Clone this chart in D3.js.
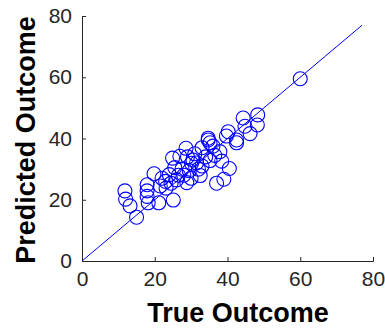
<!DOCTYPE html>
<html lang="en">
<head>
    <meta charset="UTF-8">
    <title>Predicted vs True Outcome</title>
    <script src="https://d3js.org/d3.v7.min.js"></script>
    <style>
        body {
            margin: 0;
            background: white;
            font-family: "Liberation Sans", Arial, sans-serif;
        }
        .tick text {
            font-size: 21px;
            fill: #262626;
        }
        .axis-title {
            font-size: 27px;
            font-weight: bold;
            fill: #000;
        }
    </style>
</head>
<body>
    <div id="chart"></div>
    <script>
        // True / predicted outcome pairs
        const trueOutcome = [
            60, 48.3, 48.2, 44.3, 44.8, 46.2, 40.2, 34.7, 39.7, 42.5,
            42.5, 34.7, 35.2, 37.9, 35.2, 38.4, 40.5, 39.0, 37.0, 28.6,
            30.1, 31.5, 32.5, 28.8, 26.9, 24.9, 24.0, 24.5, 25.1, 23.1,
            21.1, 19.8, 17.9, 17.9, 17.9, 18.2, 11.8, 12.0, 13.2, 15.0,
            26.5, 27.5, 29.5, 30.5, 31.0, 33.0, 36.0, 34.0, 22.0, 26.0,
            28.0, 30.0, 33.0, 36.5, 25.5, 23.0, 29.0, 32.0, 21.5
        ];
        const predictedOutcome = [
            59.5, 47.7, 44.4, 46.7, 44.0, 41.6, 42.2, 40.1, 40.8, 38.6,
            39.5, 39.5, 38.6, 35.7, 32.8, 32.6, 30.2, 26.7, 25.4, 36.8,
            31.9, 32.0, 27.9, 25.6, 34.2, 33.6, 28.2, 25.4, 19.9, 23.8,
            19.0, 28.5, 24.9, 22.9, 21.1, 19.0, 22.9, 20.2, 18.0, 14.3,
            28.0, 30.0, 29.5, 33.0, 35.0, 37.0, 37.5, 34.0, 27.0, 26.5,
            28.0, 27.0, 31.0, 34.5, 30.5, 26.0, 34.0, 30.0, 24.5
        ];
        const xTicks = [0, 20, 40, 60, 80];
        const yTicks = [0, 20, 40, 60, 80];
        const identityLine = [0, 77];

        const width = 385;
        const height = 328;
        const margin = {top: 16, right: 12, bottom: 67, left: 82};

        const svg = d3.select('#chart')
            .append('svg')
            .attr('width', width)
            .attr('height', height);

        const x = d3.scaleLinear()
            .domain([0, 80])
            .range([margin.left, width - margin.right]);

        const y = d3.scaleLinear()
            .domain([0, 80])
            .range([height - margin.bottom, margin.top]);

        // Axes (ticks point inward)
        const xAxis = svg.append('g')
            .attr('transform', `translate(0,${height - margin.bottom})`)
            .call(d3.axisBottom(x).tickValues(xTicks).tickSize(-4).tickPadding(10).tickFormat(d3.format('d')));

        const yAxis = svg.append('g')
            .attr('transform', `translate(${margin.left},0)`)
            .call(d3.axisLeft(y).tickValues(yTicks).tickSize(-4).tickPadding(9).tickFormat(d3.format('d')));

        [xAxis, yAxis].forEach(g => {
            g.select('.domain').attr('stroke', '#262626');
            g.selectAll('.tick line').attr('stroke', '#262626');
        });
        xAxis.selectAll('.tick text').attr('dy', '0.72em');
        yAxis.selectAll('.tick text').attr('dx', '-1');

        // y = x reference line
        svg.append('line')
            .attr('x1', x(identityLine[0]))
            .attr('y1', y(identityLine[0]))
            .attr('x2', x(identityLine[1]))
            .attr('y2', y(identityLine[1]))
            .attr('stroke', '#0000ff')
            .attr('stroke-width', 1);

        // Scatter points
        svg.append('g')
            .selectAll('circle')
            .data(trueOutcome.map((t, i) => [t, predictedOutcome[i]]))
            .join('circle')
            .attr('cx', d => x(d[0]))
            .attr('cy', d => y(d[1]))
            .attr('r', 7)
            .attr('fill', 'none')
            .attr('stroke', '#0000ff')
            .attr('stroke-width', 1.1);

        // Axis titles
        svg.append('text')
            .attr('class', 'axis-title')
            .attr('x', 238)
            .attr('y', 322)
            .attr('text-anchor', 'middle')
            .text('True Outcome');

        svg.append('text')
            .attr('class', 'axis-title')
            .attr('transform', 'translate(35,140) rotate(-90)')
            .attr('text-anchor', 'middle')
            .text('Predicted Outcome');
    </script>
</body>
</html>
